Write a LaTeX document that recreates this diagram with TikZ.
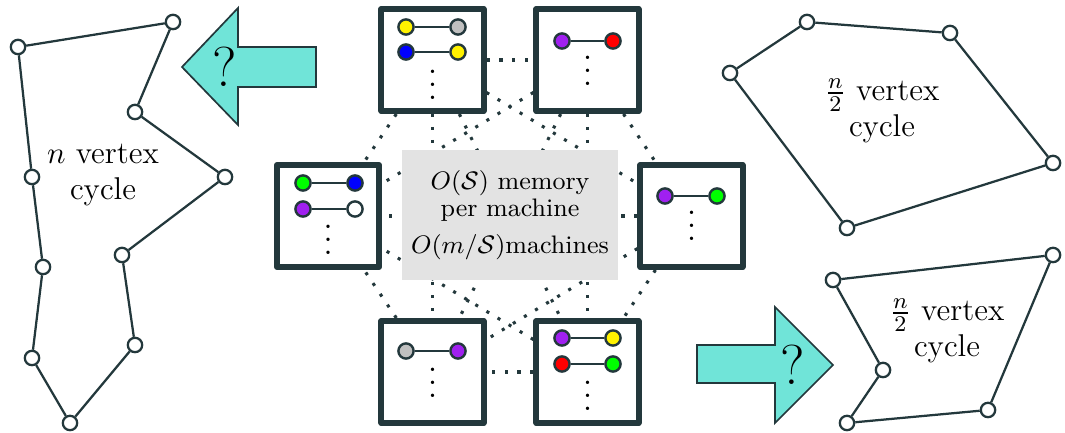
\documentclass[tikz,border=0pt]{standalone}
\usepackage{amsmath}
\usepackage{amssymb}
\usetikzlibrary{backgrounds}

\definecolor{ink}{RGB}{35,56,60}
\definecolor{aqua}{RGB}{112,228,216}
\definecolor{shade}{RGB}{227,227,227}
\definecolor{vpurple}{RGB}{160,32,240}
\definecolor{vgray}{RGB}{192,192,192}

% three stacked dots, without the top kern of \vdots
\newcommand{\stackdots}{\vbox{\baselineskip4pt\lineskiplimit0pt\hbox{.}\hbox{.}\hbox{.}}}

\begin{document}
\begin{tikzpicture}[x=0.0125cm,y=-0.0125cm,
    machine/.style={draw=ink, fill=white, line width=0.075cm, line join=round, minimum size=1.275cm, inner sep=0pt},
    vx/.style={circle, draw=ink, line width=0.03cm, minimum size=0.19cm, inner sep=0pt},
    cv/.style={circle, draw=ink, fill=white, line width=0.8pt, minimum size=0.18cm, inner sep=0pt},
    pair/.style={draw=ink, line width=0.7pt},
    ring/.style={draw=ink, line width=0.8pt},
    link/.style={draw=ink, line width=1.1pt, dash pattern=on 1.1pt off 3.5pt},
    more/.style={inner sep=0pt, scale=1.15},
    bigarrow/.style={draw=ink, fill=aqua, line width=0.6pt, line join=miter},
    label/.style={align=center, font=\fontsize{11.2}{12.8}\selectfont}]
    \useasboundingbox (0,0) rectangle (1065,433);

    % machines
    \node[machine] (m1) at (432.5,60) {};
    \node[machine] (m2) at (587.5,60) {};
    \node[machine] (m3) at (691.5,216) {};
    \node[machine] (m4) at (587.5,372) {};
    \node[machine] (m5) at (432.5,372) {};
    \node[machine] (m6) at (328,216) {};

    \begin{scope}[on background layer]
        \foreach \i in {1,...,6}
            \foreach \j in {\i,...,6}
                {\ifnum\i<\j \draw[link] (m\i) -- (m\j);\fi}
    \end{scope}

    \node[fill=shade, minimum width=2.575cm, minimum height=1.625cm, align=center,
        font=\fontsize{9}{9.6}\selectfont] (mem) at (510,215)
        {$O(\mathcal{S})$ memory\\per machine\\[3.5pt]$O(m/\mathcal{S})$machines};

    % edges stored on each machine
    \node[vx, fill=yellow] (m1a) at (406,27) {};
    \node[vx, fill=vgray] (m1b) at (458,27) {};
    \node[vx, fill=blue] (m1c) at (406,52) {};
    \node[vx, fill=yellow] (m1d) at (458,52) {};
    \draw[pair] (m1a) -- (m1b) (m1c) -- (m1d);
    \node[more] (d1) at (432.5,85) {\stackdots};

    \node[vx, fill=vpurple] (m2a) at (562,41) {};
    \node[vx, fill=red] (m2b) at (613,41) {};
    \draw[pair] (m2a) -- (m2b);
    \node[more] (d2) at (587.5,71) {\stackdots};

    \node[vx, fill=vpurple] (m3a) at (665,196) {};
    \node[vx, fill=green] (m3b) at (717,196) {};
    \draw[pair] (m3a) -- (m3b);
    \node[more] (d3) at (691.5,226) {\stackdots};

    \node[vx, fill=vpurple] (m4a) at (562,338) {};
    \node[vx, fill=yellow] (m4b) at (613,338) {};
    \node[vx, fill=red] (m4c) at (562,364) {};
    \node[vx, fill=green] (m4d) at (613,364) {};
    \draw[pair] (m4a) -- (m4b) (m4c) -- (m4d);
    \node[more] (d4) at (587.5,396) {\stackdots};

    \node[vx, fill=vgray] (m5a) at (406,351) {};
    \node[vx, fill=vpurple] (m5b) at (458,351) {};
    \draw[pair] (m5a) -- (m5b);
    \node[more] (d5) at (432.5,383) {\stackdots};

    \node[vx, fill=green] (m6a) at (303,183) {};
    \node[vx, fill=blue] (m6b) at (355,183) {};
    \node[vx, fill=vpurple] (m6c) at (303,209) {};
    \node[vx, fill=white] (m6d) at (355,209) {};
    \draw[pair] (m6a) -- (m6b) (m6c) -- (m6d);
    \node[more] (d6) at (328,240) {\stackdots};

    % n vertex cycle
    \foreach \p [count=\k] in {(18,47),(173,22),(135,112),(225,177),(122,255),
            (135,345),(70,423),(32,358),(43,267),(32,177)}
        \node[cv] (c\k) at \p {};
    \draw[ring] (c1) -- (c2) -- (c3) -- (c4) -- (c5) -- (c6) -- (c7) -- (c8) -- (c9) -- (c10) -- (c1);
    \node[label] (cl) at (103,175) {$n$ vertex\\cycle};

    % two n/2 vertex cycles
    \foreach \p [count=\k] in {(807,22),(950,33),(1053,163),(847,228),(730,73)}
        \node[cv] (u\k) at \p {};
    \draw[ring] (u1) -- (u2) -- (u3) -- (u4) -- (u5) -- (u1);
    \node[label] (ul) at (882,111) {$\frac{n}{2}$ vertex\\cycle};

    \foreach \p [count=\k] in {(833,280),(1053,255),(988,410),(847,423),(883,370)}
        \node[cv] (w\k) at \p {};
    \draw[ring] (w1) -- (w2) -- (w3) -- (w4) -- (w5) -- (w1);
    \node[label] (wl) at (947,331) {$\frac{n}{2}$ vertex\\cycle};

    % arrows
    \draw[bigarrow] (316,47) -- (238,47) -- (238,8) -- (182,67) -- (238,125) -- (238,87) -- (316,87) -- cycle;
    \node[font=\fontsize{20}{24}\selectfont] (q1) at (225,67) {?};
    \draw[bigarrow] (697,345) -- (775,345) -- (775,307) -- (833,365) -- (775,423) -- (775,383) -- (697,383) -- cycle;
    \node[font=\fontsize{20}{24}\selectfont] (q2) at (793,365) {?};
\end{tikzpicture}
\end{document}
